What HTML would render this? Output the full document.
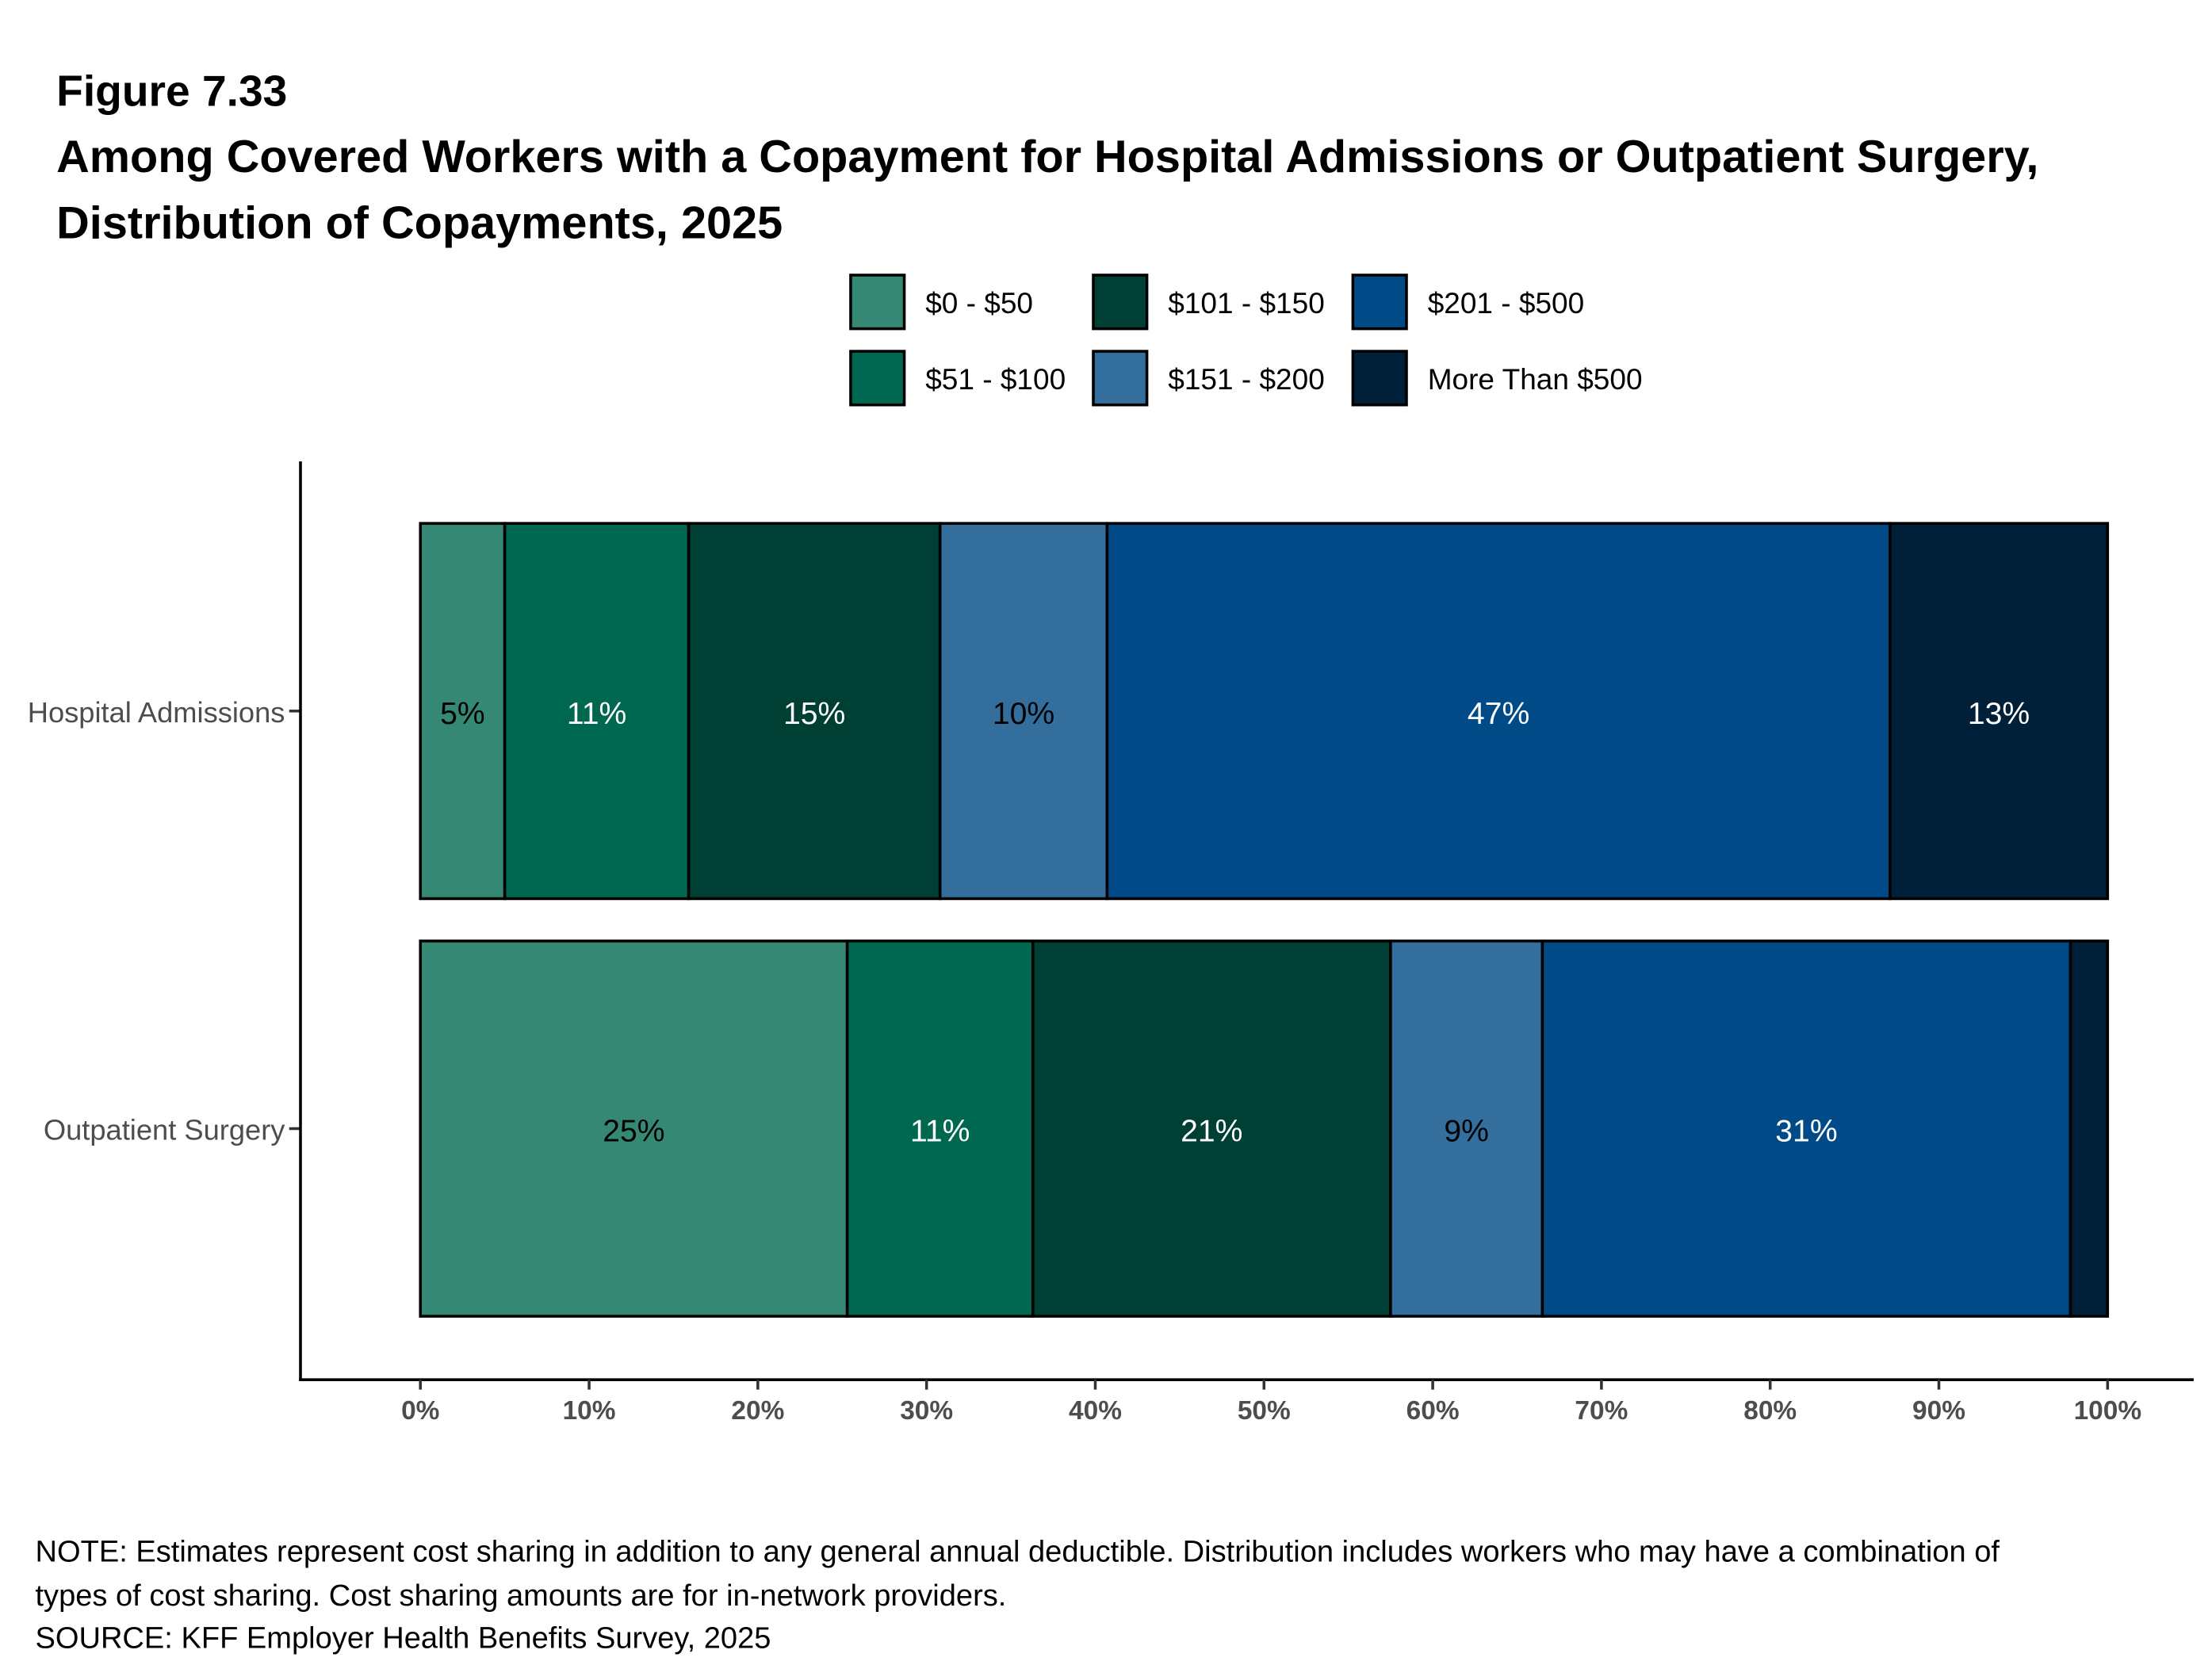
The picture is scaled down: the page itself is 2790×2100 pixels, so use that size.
<!DOCTYPE html>
<html><head><meta charset="utf-8"><style>
html,body{margin:0;padding:0;background:#fff;}
svg{display:block;font-family:"Liberation Sans",Arial,sans-serif;}
</style></head><body>
<svg id="chart" width="2790" height="2100" viewBox="0 0 1568 1180.2" xmlns="http://www.w3.org/2000/svg">
<rect width="1568" height="1180.2" fill="#fff"/>
<text x="40" y="75" font-size="31" font-weight="bold">Figure 7.33</text>
<text x="40" y="122" font-size="32.4" font-weight="bold">Among Covered Workers with a Copayment for Hospital Admissions or Outpatient Surgery,</text>
<text x="40" y="169" font-size="32.4" font-weight="bold">Distribution of Copayments, 2025</text>
<g id="legend"></g>
<g id="plot"></g>
<line x1="213" y1="327" x2="213" y2="979" stroke="#000" stroke-width="2"/>
<line x1="212" y1="978" x2="1555" y2="978" stroke="#000" stroke-width="2"/>
<g id="axes"></g>
<text x="25" y="1107" font-size="21.4">NOTE: Estimates represent cost sharing in addition to any general annual deductible. Distribution includes workers who may have a combination of</text>
<text x="25" y="1138" font-size="21.4">types of cost sharing. Cost sharing amounts are for in-network providers.</text>
<text x="25" y="1168" font-size="21.4">SOURCE: KFF Employer Health Benefits Survey, 2025</text>
</svg>
<script>
const categories = ["Hospital Admissions", "Outpatient Surgery"];
const seriesNames = ["$0 - $50", "$51 - $100", "$101 - $150", "$151 - $200", "$201 - $500", "More Than $500"];
const hospitalValues = [5.0, 10.9, 14.9, 9.9, 46.4, 12.9];
const outpatientValues = [25.3, 11.0, 21.2, 9.0, 31.3, 2.2];
const hospitalLabels = ["5%", "11%", "15%", "10%", "47%", "13%"];
const outpatientLabels = ["25%", "11%", "21%", "9%", "31%", ""];
const tickValues = [0,10,20,30,40,50,60,70,80,90,100];
const tickLabels = ["0%","10%","20%","30%","40%","50%","60%","70%","80%","90%","100%"];

const colors = ["#358874","#006850","#003f33","#336e9d","#004a87","#001f38"];
const textColors = ["#000","#fff","#fff","#000","#fff","#fff"];
const NS = "http://www.w3.org/2000/svg";
const x = v => 298 + v * (1494 - 298) / 100;
const yCenter = i => 504 + i * 296;
const barH = 266;
function mk(tag, attrs, parent){const e=document.createElementNS(NS,tag);for(const k in attrs)e.setAttribute(k,attrs[k]);parent.appendChild(e);return e;}

const plot = document.getElementById('plot');
const allValues = [hospitalValues, outpatientValues];
const allLabels = [hospitalLabels, outpatientLabels];
categories.forEach((c, ci) => {
  let cum = 0;
  const vals = allValues[ci];
  vals.forEach((v, si) => {
    const r = mk('rect', {x:x(cum), y:yCenter(ci)-barH/2, width:x(cum+v)-x(cum), height:barH, fill:colors[si], stroke:'#000', 'stroke-width':2}, plot);
    
    
    if (allLabels[ci][si]) {
      const t = mk('text', {x:x(cum+v/2), y:yCenter(ci)+9, 'font-size':22, 'text-anchor':'middle', fill:textColors[si]}, plot);
      t.textContent = allLabels[ci][si];
      
      
    }
    cum += v;
  });
  const lab = mk('text', {x:202, y:yCenter(ci)+8, 'font-size':20.4, 'text-anchor':'end', fill:'#4d4d4d'}, plot);
  lab.textContent = c;
  
  
  mk('line', {x1:205, x2:213, y1:yCenter(ci), y2:yCenter(ci), stroke:'#333', 'stroke-width':2}, plot);
});

const axes = document.getElementById('axes');
tickValues.forEach((v, i) => {
  mk('line', {x1:x(v), x2:x(v), y1:978, y2:985, stroke:'#333', 'stroke-width':2}, axes);
  const t = mk('text', {x:x(v), y:1006, 'font-size':18.8, 'font-weight':'bold', 'text-anchor':'middle', fill:'#4d4d4d'}, axes);
  t.textContent = tickLabels[i];
  
  
});

const legend = document.getElementById('legend');
const colX = [603, 775, 959];
seriesNames.forEach((n, i) => {
  const col = Math.floor(i/2), row = i%2;
  const sx = colX[col], sy = 195 + row*54;
  const r = mk('rect', {x:sx, y:sy, width:38, height:38, fill:colors[i], stroke:'#000', 'stroke-width':2}, legend);
  
  
  const t = mk('text', {x:sx+53, y:sy+27, 'font-size':20.8, fill:'#000'}, legend);
  t.textContent = n;
  
  
});
</script>
</body></html>
